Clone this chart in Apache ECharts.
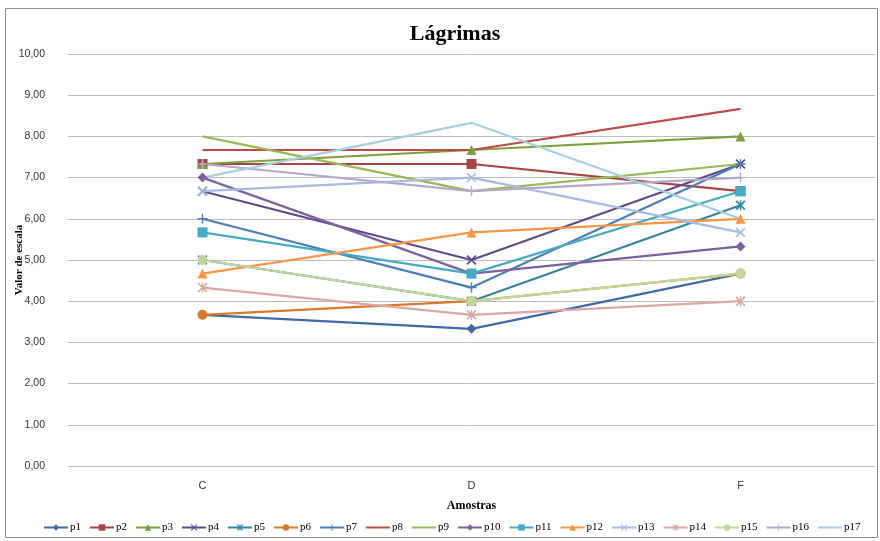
<!DOCTYPE html>
<html>
<head>
<meta charset="utf-8">
<script src="https://cdn.jsdelivr.net/npm/echarts@6/dist/echarts.min.js"></script>
<style>
  html, body { margin: 0; padding: 0; background: #fff; }
  #chart { width: 880px; height: 541px; }
</style>
</head>
<body>
<div id="chart"></div>
<script>
// Sample categories and panel scores (scale 0-10)
const categories = ['C', 'D', 'F'];
const seriesNames = ['p1','p2','p3','p4','p5','p6','p7','p8','p9','p10','p11','p12','p13','p14','p15','p16','p17'];

const p1  = [3.67, 3.33, 4.67];
const p2  = [7.33, 7.33, 6.67];
const p3  = [7.33, 7.67, 8.00];
const p4  = [6.67, 5.00, 7.33];
const p5  = [5.00, 4.00, 6.33];
const p6  = [3.67, 4.00, 4.67];
const p7  = [6.00, 4.33, 7.33];
const p8  = [7.67, 7.67, 8.67];
const p9  = [8.00, 6.67, 7.33];
const p10 = [7.00, 4.67, 5.33];
const p11 = [5.67, 4.67, 6.67];
const p12 = [4.67, 5.67, 6.00];
const p13 = [6.67, 7.00, 5.67];
const p14 = [4.33, 3.67, 4.00];
const p15 = [5.00, 4.00, 4.67];
const p16 = [7.33, 6.67, 7.00];
const p17 = [7.00, 8.33, 6.00];

const values = [p1,p2,p3,p4,p5,p6,p7,p8,p9,p10,p11,p12,p13,p14,p15,p16,p17];

const colors = [
  '#3F6AA6', '#A84442', '#7E9F3E', '#5F4A8B', '#31879E', '#D9792C',
  '#4A7EBB', '#BE4B48', '#98B954', '#7D60A0', '#46AAC5', '#F79646',
  '#A7BBE0', '#DBA6A4', '#C3D69B', '#B6A7CB', '#A5D0DD'
];

// Marker shapes
const X_PATH = 'path://M0,1.2 L1.2,0 L10,8.8 L8.8,10 Z M8.8,0 L10,1.2 L1.2,10 L0,8.8 Z';
const STAR_PATH = 'path://M0,1.2 L1.2,0 L10,8.8 L8.8,10 Z M8.8,0 L10,1.2 L1.2,10 L0,8.8 Z M4.3,0 L5.7,0 L5.7,10 L4.3,10 Z';
const PLUS_PATH = 'path://M4.3,0 L5.7,0 L5.7,10 L4.3,10 Z M0,4.3 L10,4.3 L10,5.7 L0,5.7 Z';

const markers = [
  ['diamond', 10], ['rect', 10], ['triangle', 10], [X_PATH, 10], [STAR_PATH, 10], ['circle', 10],
  [PLUS_PATH, 10], ['none', 0], ['none', 0], ['diamond', 10], ['rect', 10], ['triangle', 10],
  [X_PATH, 10], [STAR_PATH, 10], ['circle', 10], [PLUS_PATH, 10], ['none', 0]
];

const series = seriesNames.map((name, i) => ({
  name: name,
  type: 'line',
  data: values[i],
  symbol: markers[i][0],
  symbolSize: markers[i][1],
  showSymbol: markers[i][0] !== 'none',
  showAllSymbol: true,
  lineStyle: { width: 2.2, color: colors[i] },
  itemStyle: { color: colors[i] },
  emphasis: { disabled: true },
  animation: false
}));

// Legend entries: series without markers show only their line
const legendData = seriesNames.map((name, i) =>
  markers[i][0] === 'none' ? { name: name, itemStyle: { opacity: 0 } } : { name: name }
);

const chart = echarts.init(document.getElementById('chart'), null, { renderer: 'canvas' });
chart.setOption({
  animation: false,
  color: colors,
  title: {
    text: 'Lágrimas',
    left: 450,
    top: 18,
    textAlign: 'center',
    textStyle: { fontFamily: 'Liberation Serif', fontSize: 22, fontWeight: 'bold', color: '#000' }
  },
  graphic: [{
    type: 'rect',
    shape: { x: 5.5, y: 8.5, width: 872, height: 529 },
    style: { fill: 'none', stroke: '#8C8C8C', lineWidth: 1 },
    silent: true
  }],
  legend: {
    bottom: 3,
    left: 38,
    width: 840,
    itemWidth: 24,
    itemHeight: 8,
    itemGap: 8,
    data: legendData,
    textStyle: { fontFamily: 'Liberation Serif', fontSize: 11, color: '#000', padding: [0, 0, 0, -3] }
  },
  grid: { left: 68, right: 5, top: 54, bottom: 75, containLabel: false, outerBoundsMode: 'none' },
  xAxis: {
    type: 'category',
    data: categories,
    boundaryGap: true,
    name: 'Amostras',
    nameLocation: 'middle',
    nameGap: 34,
    nameMoveOverlap: false,
    nameTextStyle: { fontFamily: 'Liberation Serif', fontSize: 12, fontWeight: 'bold', color: '#000' },
    axisLine: { show: false },
    axisTick: { show: false },
    axisLabel: { margin: 14, fontFamily: 'Liberation Sans', fontSize: 11, color: '#333' }
  },
  yAxis: {
    type: 'value',
    min: 0,
    max: 10,
    interval: 1,
    name: 'Valor de escala',
    nameLocation: 'middle',
    nameGap: 43,
    nameMoveOverlap: false,
    nameTextStyle: { fontFamily: 'Liberation Serif', fontSize: 11, fontWeight: 'bold', color: '#000' },
    axisLine: { show: false },
    axisTick: { show: false },
    axisLabel: {
      margin: 23,
      fontFamily: 'Liberation Sans',
      fontSize: 10.5,
      color: '#333',
      formatter: v => v.toFixed(2).replace('.', ',')
    },
    splitLine: { lineStyle: { color: '#BDBDBD', width: 1 } }
  },
  series: series
});
</script>
</body>
</html>
